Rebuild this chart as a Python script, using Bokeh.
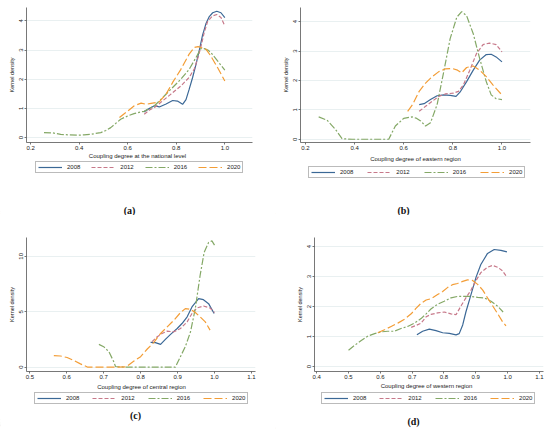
from bokeh.plotting import figure
from bokeh.models import Legend, LegendItem, FixedTicker, Range1d, Label
from bokeh.layouts import column, row
from bokeh.embed import file_html
from bokeh.resources import INLINE

years = ["2008", "2012", "2016", "2020"]

# ---------------- panel (a): national level ----------------
a08_x = [0.666, 0.690, 0.710, 0.730, 0.758, 0.785, 0.805, 0.826, 0.840, 0.853, 0.867, 0.881, 0.895, 0.908, 0.922, 0.936, 0.950, 0.967, 0.984, 1.0]
a08_y = [0.88, 1.00, 1.09, 1.05, 1.15, 1.27, 1.25, 1.14, 1.30, 1.65, 2.05, 2.50, 3.00, 3.50, 3.90, 4.15, 4.28, 4.33, 4.28, 4.11]
a12_x = [0.668, 0.690, 0.710, 0.744, 0.778, 0.819, 0.853, 0.874, 0.888, 0.901, 0.915, 0.929, 0.949, 0.967, 0.984, 1.0]
a12_y = [0.80, 0.95, 1.03, 1.26, 1.49, 1.77, 2.06, 2.35, 2.70, 3.10, 3.60, 3.98, 4.17, 4.22, 4.12, 3.83]
a16_x = [0.255, 0.290, 0.324, 0.360, 0.392, 0.420, 0.447, 0.489, 0.510, 0.530, 0.550, 0.571, 0.600, 0.626, 0.654, 0.668, 0.690, 0.710, 0.744, 0.778, 0.819, 0.853, 0.881, 0.901, 0.915, 0.930, 0.942, 0.970, 1.0]
a16_y = [0.17, 0.16, 0.11, 0.09, 0.08, 0.09, 0.11, 0.17, 0.24, 0.34, 0.48, 0.63, 0.74, 0.82, 0.88, 0.90, 1.00, 1.09, 1.37, 1.66, 2.00, 2.34, 2.74, 3.05, 3.05, 3.00, 2.92, 2.63, 2.31]
a20_x = [0.566, 0.583, 0.600, 0.627, 0.655, 0.675, 0.696, 0.730, 0.758, 0.785, 0.819, 0.853, 0.874, 0.890, 0.905, 0.922, 0.942, 0.970, 1.0]
a20_y = [0.69, 0.80, 0.91, 1.09, 1.18, 1.14, 1.17, 1.22, 1.49, 1.89, 2.34, 2.86, 3.09, 3.12, 3.08, 3.03, 2.80, 2.40, 1.94]

# ---------------- panel (b): eastern region ----------------
b08_x = [0.663, 0.683, 0.709, 0.736, 0.763, 0.789, 0.813, 0.829, 0.856, 0.883, 0.909, 0.936, 0.956, 0.976, 1.0]
b08_y = [1.18, 1.21, 1.35, 1.48, 1.51, 1.49, 1.46, 1.60, 1.96, 2.35, 2.69, 2.88, 2.89, 2.80, 2.63]
b12_x = [0.663, 0.689, 0.716, 0.743, 0.769, 0.803, 0.823, 0.843, 0.869, 0.896, 0.923, 0.949, 0.976, 1.0]
b12_y = [0.95, 1.12, 1.29, 1.46, 1.54, 1.57, 1.63, 1.85, 2.35, 2.91, 3.22, 3.27, 3.22, 2.97]
b16_x = [0.254, 0.288, 0.322, 0.349, 0.390, 0.450, 0.500, 0.539, 0.566, 0.600, 0.634, 0.650, 0.669, 0.689, 0.709, 0.736, 0.763, 0.789, 0.816, 0.836, 0.856, 0.883, 0.909, 0.936, 0.956, 0.976, 1.0]
b16_y = [0.76, 0.65, 0.34, 0.02, 0.0, 0.0, 0.0, 0.0, 0.45, 0.71, 0.76, 0.72, 0.62, 0.45, 0.56, 1.18, 2.30, 3.42, 4.15, 4.34, 4.20, 3.59, 2.75, 1.96, 1.51, 1.38, 1.35]
b20_x = [0.616, 0.636, 0.663, 0.689, 0.716, 0.743, 0.769, 0.796, 0.819, 0.836, 0.856, 0.883, 0.909, 0.936, 0.963, 0.996]
b20_y = [0.95, 1.18, 1.63, 1.91, 2.13, 2.30, 2.39, 2.41, 2.35, 2.26, 2.44, 2.49, 2.35, 2.13, 1.85, 1.54]

# ---------------- panel (c): central region ----------------
c08_x = [0.827, 0.840, 0.854, 0.867, 0.881, 0.899, 0.912, 0.926, 0.939, 0.957, 0.970, 0.984, 0.999]
c08_y = [2.24, 2.21, 2.06, 2.51, 2.96, 3.49, 3.94, 4.54, 5.43, 6.18, 6.09, 5.73, 4.84]
c12_x = [0.831, 0.845, 0.858, 0.872, 0.890, 0.908, 0.926, 0.939, 0.952, 0.970, 0.988, 1.0]
c12_y = [2.30, 2.75, 3.04, 3.25, 3.19, 3.49, 4.09, 4.84, 5.34, 5.52, 5.34, 4.93]
c16_x = [0.687, 0.700, 0.714, 0.727, 0.732, 0.760, 0.800, 0.850, 0.894, 0.908, 0.921, 0.935, 0.948, 0.961, 0.972, 0.984, 0.993, 1.0]
c16_y = [2.06, 1.85, 1.40, 0.51, 0.06, 0.0, 0.0, 0.0, 0.0, 0.96, 1.85, 3.19, 5.28, 8.27, 10.36, 11.25, 11.40, 11.01]
c20_x = [0.565, 0.583, 0.601, 0.619, 0.637, 0.657, 0.700, 0.760, 0.782, 0.800, 0.818, 0.836, 0.854, 0.872, 0.890, 0.908, 0.921, 0.935, 0.948, 0.961, 0.975, 0.988]
c20_y = [1.04, 1.01, 0.87, 0.60, 0.30, 0.0, 0.0, 0.02, 0.55, 0.95, 1.64, 2.24, 3.04, 3.64, 4.24, 4.93, 5.28, 5.22, 4.93, 4.54, 4.09, 3.34]

# ---------------- panel (d): western region ----------------
d08_x = [0.715, 0.733, 0.754, 0.775, 0.796, 0.817, 0.838, 0.848, 0.859, 0.869, 0.885, 0.901, 0.916, 0.937, 0.958, 0.979, 0.998]
d08_y = [1.06, 1.18, 1.25, 1.20, 1.13, 1.11, 1.06, 1.10, 1.39, 1.82, 2.40, 2.98, 3.40, 3.77, 3.90, 3.87, 3.82]
d12_x = [0.697, 0.712, 0.728, 0.744, 0.759, 0.780, 0.801, 0.822, 0.838, 0.854, 0.869, 0.885, 0.901, 0.916, 0.937, 0.953, 0.969, 0.984, 0.998]
d12_y = [1.31, 1.37, 1.45, 1.66, 1.74, 1.79, 1.82, 1.76, 1.73, 2.03, 2.29, 2.55, 2.87, 3.13, 3.31, 3.37, 3.31, 3.19, 2.98]
d16_x = [0.500, 0.519, 0.540, 0.561, 0.582, 0.603, 0.623, 0.644, 0.665, 0.686, 0.707, 0.728, 0.744, 0.759, 0.780, 0.801, 0.822, 0.843, 0.864, 0.885, 0.906, 0.927, 0.948, 0.969, 0.986]
d16_y = [0.55, 0.71, 0.87, 1.02, 1.10, 1.16, 1.18, 1.18, 1.27, 1.34, 1.45, 1.60, 1.76, 1.92, 2.08, 2.18, 2.29, 2.34, 2.34, 2.34, 2.31, 2.29, 2.18, 2.01, 1.82]
d20_x = [0.592, 0.613, 0.634, 0.655, 0.676, 0.697, 0.712, 0.728, 0.744, 0.759, 0.780, 0.796, 0.812, 0.827, 0.843, 0.859, 0.874, 0.890, 0.906, 0.922, 0.937, 0.953, 0.969, 0.984, 0.995]
d20_y = [1.13, 1.23, 1.34, 1.45, 1.58, 1.76, 1.94, 2.11, 2.22, 2.26, 2.40, 2.50, 2.64, 2.73, 2.77, 2.84, 2.89, 2.87, 2.74, 2.55, 2.29, 2.03, 1.76, 1.50, 1.36]

# ticks and labels
ab_xticks = [0.2, 0.4, 0.6, 0.8, 1.0]
ab_xtick_labels = ["0.2", "0.4", "0.6", "0.8", "1.0"]
abd_yticks = [0, 1, 2, 3, 4]
abd_ytick_labels = ["0", "1", "2", "3", "4"]
c_xticks = [0.5, 0.6, 0.7, 0.8, 0.9, 1.0, 1.1]
c_xtick_labels = ["0.5", "0.6", "0.7", "0.8", "0.9", "1.0", "1.1"]
c_yticks = [0, 5, 10]
c_ytick_labels = ["0", "5", "10"]
d_xticks = [0.4, 0.5, 0.6, 0.7, 0.8, 0.9, 1.0, 1.1]
d_xtick_labels = ["0.4", "0.5", "0.6", "0.7", "0.8", "0.9", "1.0", "1.1"]

x_titles = ["Coupling degree at the national level", "Coupling degree of eastern region",
            "Coupling degree of central region", "Coupling degree of western region"]
y_title = "Kernel density"
captions = ["(a)", "(b)", "(c)", "(d)"]

# styles
COLORS = ["#3b6896", "#c7798a", "#84a866", "#f39d36"]
DASHES = ["solid", "4 2", "7 2 2 2", "8 3"]
SANS = "Liberation Sans"
INK = "#222222"
W = 275
X0 = 2.0  # footer x-origin, right of all data so legend proxies stay hidden


def make_panel(series, xr, yr, xticks, xlabels, yticks, ylabels, height, borders):
    left, right, top, bottom = borders
    p = figure(width=W, height=height, output_backend="svg", toolbar_location=None,
               x_range=Range1d(*xr), y_range=Range1d(*yr),
               min_border_left=left, min_border_right=right,
               min_border_top=top, min_border_bottom=bottom)
    p.outline_line_color = None
    p.background_fill_color = "white"
    p.border_fill_color = "white"
    for (xs, ys), col, dash in zip(series, COLORS, DASHES):
        p.line(xs, ys, line_color=col, line_width=1.2, line_dash=dash)

    xa = p.xaxis[0]
    xa.ticker = FixedTicker(ticks=xticks)
    xa.major_label_overrides = {t: l for t, l in zip(xticks, xlabels)}
    ya = p.yaxis[0]
    ya.ticker = FixedTicker(ticks=yticks)
    ya.major_label_overrides = {t: l for t, l in zip(yticks, ylabels)}
    ya.axis_label = y_title
    ya.major_label_orientation = "vertical"
    ya.axis_label_text_font = SANS
    ya.axis_label_text_font_size = "5.5px"
    ya.axis_label_text_font_style = "normal"
    ya.axis_label_text_color = INK
    ya.axis_label_standoff = 2
    for ax in (xa, ya):
        ax.axis_line_color = "#555555"
        ax.axis_line_width = 0.8
        ax.major_tick_line_color = "#555555"
        ax.major_tick_line_width = 0.8
        ax.major_tick_in = 0
        ax.major_tick_out = 2
        ax.minor_tick_line_color = None
        ax.major_label_text_font = SANS
        ax.major_label_text_font_size = "6px"
        ax.major_label_text_color = INK
        ax.major_label_standoff = 1
    p.xgrid.grid_line_color = None
    p.ygrid.grid_line_color = "#e3ecee"
    p.ygrid.grid_line_width = 0.8
    return p


def make_footer(series, height, xtitle, ax_x, ax_t, leg_left, leg_top, spacing,
                caption, cap_x, cap_t):
    f = figure(width=W, height=height, output_backend="svg", toolbar_location=None,
               x_range=Range1d(X0, X0 + W), y_range=Range1d(0, height),
               min_border=0, x_axis_location=None, y_axis_location=None)
    f.outline_line_color = None
    f.grid.grid_line_color = None
    f.border_fill_color = "white"
    f.background_fill_color = "white"
    items = []
    for (xs, ys), yr, col, dash in zip(series, years, COLORS, DASHES):
        r = f.line(xs, ys, line_color=col, line_width=1.2, line_dash=dash)
        items.append(LegendItem(label=yr, renderers=[r]))
    leg_h = 12
    legend = Legend(items=items, orientation="horizontal",
                    location=(leg_left, height - leg_top - leg_h))
    legend.label_text_font = SANS
    legend.label_text_font_size = "6px"
    legend.label_text_color = INK
    legend.glyph_width = 24
    legend.glyph_height = 6
    legend.label_standoff = 5
    legend.label_height = 6
    legend.label_width = 12
    legend.spacing = spacing
    legend.padding = 2
    legend.margin = 0
    legend.border_line_color = "#777777"
    legend.border_line_width = 0.8
    legend.background_fill_color = "white"
    f.add_layout(legend, "center")
    f.add_layout(Label(x=X0 + ax_x, y=height - ax_t, text=xtitle, text_align="center",
                       text_baseline="middle", text_font=SANS, text_font_size="6px",
                       text_color=INK))
    f.add_layout(Label(x=X0 + cap_x, y=height - cap_t, text=caption, text_align="center",
                       text_baseline="middle", text_font="Liberation Serif",
                       text_font_size="10px", text_font_style="bold", text_color="#111111"))
    return f


TOP_H, TOP_F = 152, 63
BOT_H, BOT_F = 167, 48

sa = [(a08_x, a08_y), (a12_x, a12_y), (a16_x, a16_y), (a20_x, a20_y)]
sb = [(b08_x, b08_y), (b12_x, b12_y), (b16_x, b16_y), (b20_x, b20_y)]
sc = [(c08_x, c08_y), (c12_x, c12_y), (c16_x, c16_y), (c20_x, c20_y)]
sd = [(d08_x, d08_y), (d12_x, d12_y), (d16_x, d16_y), (d20_x, d20_y)]

pa = make_panel(sa, (0.183, 1.114), (-0.17, 4.46), ab_xticks, ab_xtick_labels,
                abd_yticks, abd_ytick_labels, TOP_H, (26, 23, 7, 10))
pb = make_panel(sb, (0.18, 1.116), (-0.11, 4.48), ab_xticks, ab_xtick_labels,
                abd_yticks, abd_ytick_labels, TOP_H, (25, 20, 7, 9))
pc = make_panel(sc, (0.491, 1.111), (-0.39, 11.7), c_xticks, c_xtick_labels,
                c_yticks, c_ytick_labels, BOT_H, (26, 20, 22, 10))
pd_ = make_panel(sd, (0.393, 1.113), (-0.16, 4.30), d_xticks, d_xtick_labels,
                 abd_yticks, abd_ytick_labels, BOT_H, (39, 7, 15, 11))

fa = make_footer(sa, TOP_F, x_titles[0], 137, 3, 35, 9, 11, captions[0], 129, 58)
fb = make_footer(sb, TOP_F, x_titles[1], 140, 6, 33, 14, 14, captions[1], 128, 58)
fc = make_footer(sc, BOT_F, x_titles[2], 141, 4, 34, 10, 13, captions[2], 135, 33)
fd = make_footer(sd, BOT_F, x_titles[3], 151, 3, 46, 10, 13, captions[3], 138, 39)

layout = column(row(pa, pb), row(fa, fb), row(pc, pd_), row(fc, fd))

open("out.html", "w").write(file_html(layout, INLINE))
